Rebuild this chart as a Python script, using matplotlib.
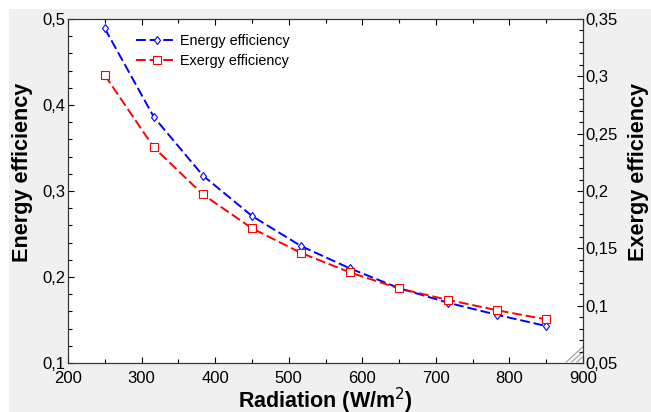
import numpy as np
import matplotlib
matplotlib.use('Agg')
import matplotlib.pyplot as plt
from matplotlib.patches import Rectangle
from matplotlib.ticker import MultipleLocator, FuncFormatter

plt.rcParams['font.family'] = ['Liberation Sans', 'DejaVu Sans']

# data
radiation = [250, 316.7, 383.3, 450, 516.7, 583.3, 650, 716.7, 783.3, 850]
energy_eff = [0.489, 0.386, 0.318, 0.271, 0.236, 0.210, 0.187, 0.170, 0.156, 0.143]
exergy_eff = [0.301, 0.238, 0.197, 0.1675, 0.146, 0.129, 0.115, 0.105, 0.096, 0.088]

comma = FuncFormatter(lambda v, p: '{:g}'.format(round(v, 4)).replace('.', ','))

fig = plt.figure(figsize=(6.51, 4.12), dpi=100, facecolor='white')
fig.patches.append(Rectangle((9 / 651, 0), 1, 1 - 9 / 412, transform=fig.transFigure,
                             facecolor='#f0f0f0', edgecolor='none', zorder=-10))

ax = fig.add_axes([68 / 651, 1 - 363 / 412, (583 - 68) / 651, (363 - 19) / 412])
ax2 = ax.twinx()

l1, = ax.plot(radiation, energy_eff, color='#0000ff', lw=1.4, ls=(0, (5, 2)),
              marker='d', ms=4.5, mfc='white', mec='#0000ff', mew=0.8,
              label='Energy efficiency')
l2, = ax2.plot(radiation, exergy_eff, color='#ff0000', lw=1.4, ls=(0, (5, 2)),
               marker='s', ms=5.5, mfc='white', mec='#ff0000', mew=0.8,
               label='Exergy efficiency')

ax.set_xlim(200, 900)
ax.set_ylim(0.1, 0.5)
ax2.set_ylim(0.05, 0.35)

ax.xaxis.set_major_locator(MultipleLocator(100))
ax.xaxis.set_minor_locator(MultipleLocator(50))
ax.yaxis.set_major_locator(MultipleLocator(0.1))
ax.yaxis.set_minor_locator(MultipleLocator(0.02))
ax2.yaxis.set_major_locator(MultipleLocator(0.05))
ax2.yaxis.set_minor_locator(MultipleLocator(0.01))
ax.yaxis.set_major_formatter(comma)
ax2.yaxis.set_major_formatter(comma)

for a in (ax, ax2):
    a.tick_params(which='major', direction='in', length=4, width=0.8, labelsize=12, pad=2)
    a.tick_params(which='minor', direction='in', length=3, width=0.8)
    for s in a.spines.values():
        s.set_color('#333333')
ax.tick_params(axis='x', which='both', top=True)
ax.tick_params(axis='x', which='major', pad=6)

ax.set_xlabel('Radiation (W/m$^2$)', fontsize=15.5, fontweight='bold', labelpad=-0.5)
ax.set_ylabel('Energy efficiency', fontsize=15.6, fontweight='bold')
ax2.set_ylabel('Exergy efficiency', fontsize=15.6, fontweight='bold')
ax.yaxis.set_label_coords(-0.068, 0.555)
ax2.yaxis.set_label_coords(1.087, 0.555)

ax.legend([l1, l2], ['Energy efficiency', 'Exergy efficiency'], loc='upper left',
          bbox_to_anchor=(0.12, 0.973), frameon=False, fontsize=10.4,
          handlelength=2.9, handletextpad=0.15, labelspacing=0.42, borderaxespad=0)

# resize grip in the corner
for k in (0.012, 0.022, 0.032):
    ax.plot([1 - k, 1], [0.003, k * 515 / 344], transform=ax.transAxes,
            color='#999999', lw=0.8, clip_on=False)

fig.savefig('out.png', dpi=100, facecolor=fig.get_facecolor())
